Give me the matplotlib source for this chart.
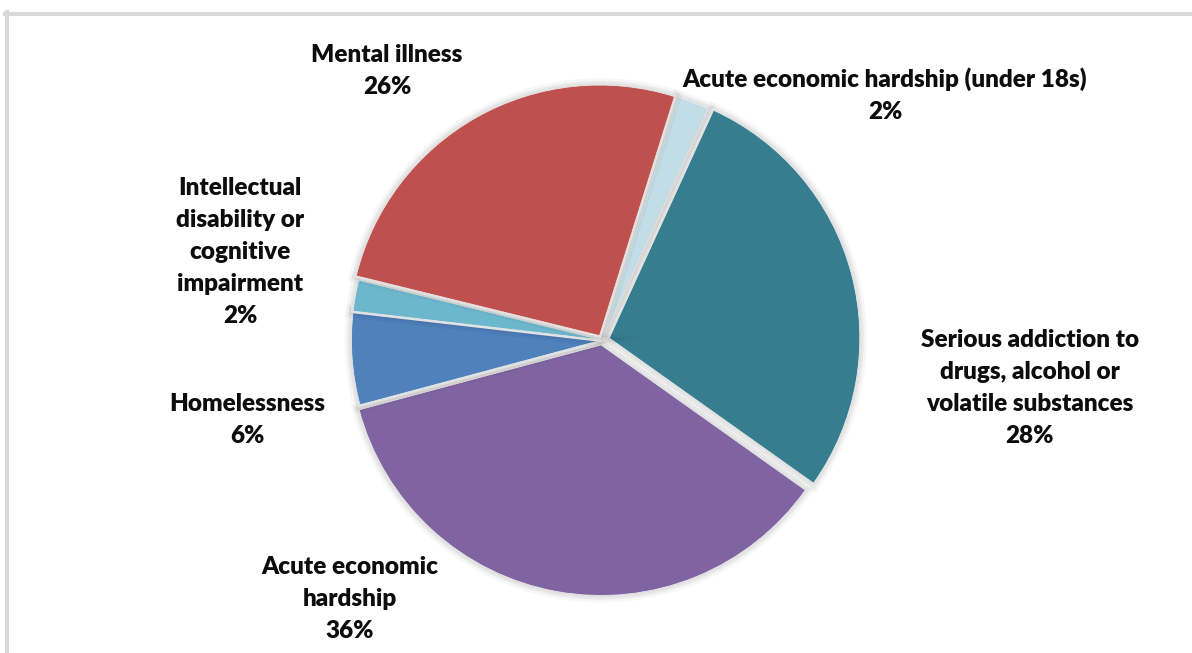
import matplotlib

matplotlib.use("Agg")
import matplotlib.pyplot as plt
import matplotlib.patheffects as pe
from matplotlib.lines import Line2D

# slices in clockwise order, starting just right of twelve o'clock
categories = [
    "Acute economic hardship (under 18s)",
    "Serious addiction to\ndrugs, alcohol or\nvolatile substances",
    "Acute economic\nhardship",
    "Homelessness",
    "Intellectual\ndisability or\ncognitive\nimpairment",
    "Mental illness",
]
shares = [2, 28, 36, 6, 2, 26]
colors = ["#c2dde6", "#367d90", "#8064a2", "#4f81bd", "#6db7cd", "#c0504d"]
explode = [0.015, 0.03, 0.02, 0, 0, 0.02]

# label centres in pixels (x, y from the top)
label_pos = [(885, 95), (1030, 388), (350, 599), (247, 420), (240, 252), (387, 71)]

W, H = 1192, 653
fig = plt.figure(figsize=(W / 100, H / 100), dpi=100)

# pie axes: centre (602, 340), radius 261 px
r_px = 261
half = 1.2 * r_px
cx, cy = 602, 340
ax = fig.add_axes([(cx - half) / W, (H - cy - half) / H, 2 * half / W, 2 * half / H])
ax.set_xlim(-1.2, 1.2)
ax.set_ylim(-1.2, 1.2)
ax.set_aspect("equal")
ax.axis("off")

wedges, _ = ax.pie(
    shares,
    colors=colors,
    explode=explode,
    startangle=72.6,
    counterclock=False,
    radius=1.0,
    wedgeprops=dict(edgecolor="#e8e8e8", linewidth=0.6),
)
for w in wedges:
    w.set_path_effects([
        pe.Stroke(linewidth=10, foreground="#000000", alpha=0.03),
        pe.Stroke(linewidth=6, foreground="#000000", alpha=0.05),
        pe.Stroke(linewidth=3, foreground="#e2e2e2"),
        pe.Normal(),
    ])

for name, val, (x, y) in zip(categories, shares, label_pos):
    fig.text(x / W, 1 - y / H, f"{name}\n{val}%", ha="center", va="center",
             fontsize=17.5, fontweight="heavy", family=["Lato", "DejaVu Sans"],
             color="#0d0d0d", linespacing=1.55)

# light grey chart border (top and left edges)
fig.add_artist(Line2D([5 / W, 1], [1 - 14 / H, 1 - 14 / H], color="#d9d9d9",
                      linewidth=2.9, transform=fig.transFigure))
fig.add_artist(Line2D([7 / W, 7 / W], [0, 1 - 12 / H], color="#d9d9d9",
                      linewidth=2.9, transform=fig.transFigure))

fig.savefig("out.png", dpi=100)
